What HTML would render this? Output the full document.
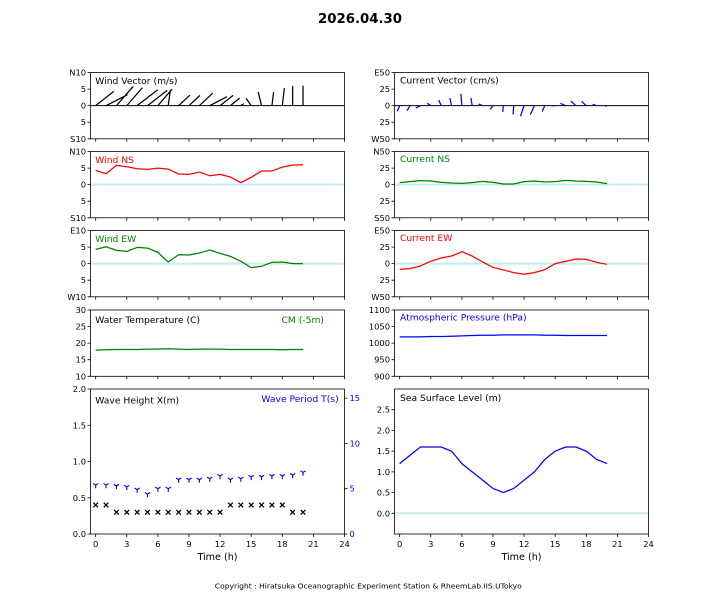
<!DOCTYPE html>
<html>
<head>
<meta charset="utf-8">
<style>
html,body{margin:0;padding:0;background:#fff;}
svg{display:block;}
text{font-family:"DejaVu Sans","Liberation Sans",sans-serif;}
.t{font-size:8.3px;fill:#000;}
.lab{font-size:9.2px;}
.ax{fill:none;stroke:#000;stroke-width:0.8;}
.s{fill:none;stroke-width:1.25;vector-effect:non-scaling-stroke;stroke-linejoin:round;}
.z{stroke:#c4eeee;stroke-width:2;}
</style>
</head>
<body>
<svg width="720" height="600" viewBox="0 0 720 600" xmlns="http://www.w3.org/2000/svg">
<defs>
<path id="xm" d="M-2.3 -2.3 L2.3 2.3 M-2.3 2.3 L2.3 -2.3" stroke="#000" stroke-width="1.3" fill="none"/>
<path id="tm" d="M0 0 L0 3.2 M0 0 L-2.6 -1.6 M0 0 L2.6 -1.6" stroke="#0000ff" stroke-width="1.1" fill="none"/>
</defs>
<rect width="720" height="600" fill="#fff"/>

<!-- Title -->
<text x="360" y="22.8" text-anchor="middle" style="font-size:13.3px;font-weight:bold;">2026.04.30</text>

<!-- zero lines (cyan) -->
<line class="z" x1="90.5" y1="184.65" x2="344.5" y2="184.65"/>
<line class="z" x1="90.5" y1="263.65" x2="344.5" y2="263.65"/>
<line class="z" x1="394.5" y1="184.65" x2="648.5" y2="184.65"/>
<line class="z" x1="394.5" y1="263.65" x2="648.5" y2="263.65"/>
<line class="z" x1="394.5" y1="513.3" x2="648.5" y2="513.3"/>

<!-- black zero lines for vector plots -->
<line x1="90.5" y1="105.65" x2="344.5" y2="105.65" stroke="#000" stroke-width="1"/>
<line x1="394.5" y1="105.65" x2="648.5" y2="105.65" stroke="#000" stroke-width="1"/>

<!-- Wind vectors -->
<g transform="translate(95.68,105.65) scale(10.367,-3.315)">
<path class="s" stroke="#000" d="M0 0L1.742 4.3M1 0L3.066 3.3M2 0L3.62 5.8M3 0L4.499 5.4M4 0L5.985 4.8M5 0L6.904 4.6M6 0L7.377 5.0M7 0L7.203 4.7M8 0L9.094 3.2M9 0L10.053 3.1M10 0L11.296 3.8M11 0L12.661 2.7M12 0L13.256 3.1M13 0L13.891 2.3M14 0L14.284 0.6M15 0L14.514 2.2M16 0L15.676 4.1M17 0L17.162 4.1M18 0L18.203 5.3M19 0L19 5.9M20 0L20 6.0"/>
</g>

<!-- Current vectors -->
<g transform="translate(399.68,105.65) scale(10.367,-0.663)">
<path class="s" stroke="#0000ff" d="M0 0L-0.23 -8.5M1 0L0.71 -7.5M2 0L1.55 -3.5M3 0L2.65 3.5M4 0L3.77 8.5M5 0L4.84 11.5M6 0L5.9 18M7 0L6.87 11.5M8 0L7.61 2.5M9 0L8.74 -5.5M10 0L9.94 -9.5M11 0L10.94 -13.5M12 0L11.65 -16M13 0L12.61 -13.5M14 0L13.74 -9M15 0L14.62 0M16 0L15.5 3.5M17 0L16.52 7M18 0L17.55 6.5M19 0L18.61 2M20 0L19.84 -1"/>
</g>

<!-- Wind NS -->
<g transform="translate(95.68,184.65) scale(10.367,-3.315)">
<polyline class="s" stroke="#ff0000" points="0,4.3 1,3.3 2,5.8 3,5.4 4,4.8 5,4.6 6,5.0 7,4.7 8,3.2 9,3.1 10,3.8 11,2.7 12,3.1 13,2.3 14,0.6 15,2.2 16,4.1 17,4.1 18,5.3 19,5.9 20,6.0"/>
</g>
<!-- Wind EW -->
<g transform="translate(95.68,263.65) scale(10.367,-3.315)">
<polyline class="s" stroke="#008000" points="0,4.3 1,5.1 2,4.0 3,3.7 4,4.9 5,4.7 6,3.4 7,0.5 8,2.7 9,2.6 10,3.2 11,4.1 12,3.1 13,2.2 14,0.7 15,-1.2 16,-0.8 17,0.4 18,0.5 19,0.0 20,0.0"/>
</g>
<!-- Water temp -->
<g transform="translate(95.68,409.45) scale(10.367,-3.315)">
<polyline class="s" stroke="#008000" points="0,17.9 1,18.0 2,18.1 3,18.1 4,18.1 5,18.2 6,18.2 7,18.3 8,18.2 9,18.1 10,18.2 11,18.2 12,18.2 13,18.1 14,18.1 15,18.1 16,18.1 17,18.1 18,18.0 19,18.1 20,18.1"/>
</g>
<!-- Current NS -->
<g transform="translate(399.68,184.65) scale(10.367,-0.663)">
<polyline class="s" stroke="#008000" points="0,3 1,4.5 2,6 3,5.5 4,3.5 5,2.5 6,2 7,3 8,5 9,3.5 10,1 11,1 12,4.5 13,5.5 14,4 15,4.5 16,6.5 17,5.5 18,5 19,4 20,1.5"/>
</g>
<!-- Current EW -->
<g transform="translate(399.68,263.65) scale(10.367,-0.663)">
<polyline class="s" stroke="#ff0000" points="0,-8.5 1,-7.5 2,-3.5 3,3.5 4,8.5 5,11.5 6,18 7,11.5 8,2.5 9,-5.5 10,-9.5 11,-13.5 12,-16 13,-13.5 14,-9 15,0 16,3.5 17,7 18,6.5 19,2 20,-1"/>
</g>
<!-- Pressure (value-1000) -->
<g transform="translate(399.68,343.15) scale(10.367,-0.3315)">
<polyline class="s" stroke="#0000ff" points="0,19 1,19 2,19 3,20 4,20 5,21 6,22 7,23 8,24 9,24 10,25 11,25 12,25 13,25 14,24 15,24 16,23 17,23 18,23 19,23 20,23"/>
</g>
<!-- Sea surface level -->
<g transform="translate(399.68,513.3) scale(10.367,-41.43)">
<polyline class="s" stroke="#0000ff" points="0,1.2 1,1.4 2,1.6 3,1.6 4,1.6 5,1.5 6,1.2 7,1.0 8,0.8 9,0.6 10,0.5 11,0.6 12,0.8 13,1.0 14,1.3 15,1.5 16,1.6 17,1.6 18,1.5 19,1.3 20,1.2"/>
</g>

<!-- Wave height markers -->
<use href="#xm" x="95.68" y="505"/><use href="#xm" x="106.05" y="505"/>
<use href="#xm" x="116.41" y="512.25"/><use href="#xm" x="126.78" y="512.25"/><use href="#xm" x="137.15" y="512.25"/><use href="#xm" x="147.52" y="512.25"/><use href="#xm" x="157.88" y="512.25"/><use href="#xm" x="168.25" y="512.25"/><use href="#xm" x="178.62" y="512.25"/><use href="#xm" x="188.98" y="512.25"/><use href="#xm" x="199.35" y="512.25"/><use href="#xm" x="209.72" y="512.25"/><use href="#xm" x="220.08" y="512.25"/>
<use href="#xm" x="230.45" y="505"/><use href="#xm" x="240.82" y="505"/><use href="#xm" x="251.18" y="505"/><use href="#xm" x="261.55" y="505"/><use href="#xm" x="271.92" y="505"/><use href="#xm" x="282.28" y="505"/>
<use href="#xm" x="292.65" y="512.25"/><use href="#xm" x="303.02" y="512.25"/>

<!-- Wave period markers -->
<use href="#tm" x="95.68" y="485.06"/><use href="#tm" x="106.05" y="485.06"/><use href="#tm" x="116.41" y="485.97"/><use href="#tm" x="126.78" y="486.9"/><use href="#tm" x="137.15" y="489.6"/><use href="#tm" x="147.52" y="494.1"/><use href="#tm" x="157.88" y="488.7"/><use href="#tm" x="168.25" y="488.7"/><use href="#tm" x="178.62" y="479.6"/><use href="#tm" x="188.98" y="479.6"/><use href="#tm" x="199.35" y="479.6"/><use href="#tm" x="209.72" y="478.7"/><use href="#tm" x="220.08" y="476.0"/><use href="#tm" x="230.45" y="479.6"/><use href="#tm" x="240.82" y="478.7"/><use href="#tm" x="251.18" y="476.9"/><use href="#tm" x="261.55" y="476.9"/><use href="#tm" x="271.92" y="476.0"/><use href="#tm" x="282.28" y="476.0"/><use href="#tm" x="292.65" y="475.1"/><use href="#tm" x="303.02" y="472.4"/>

<!-- Axes frames -->
<rect class="ax" x="90.5" y="72.5" width="254" height="66.3"/>
<rect class="ax" x="90.5" y="151.5" width="254" height="66.3"/>
<rect class="ax" x="90.5" y="230.5" width="254" height="66.3"/>
<rect class="ax" x="90.5" y="310" width="254" height="66.3"/>
<rect class="ax" x="90.5" y="389" width="254" height="145"/>
<rect class="ax" x="394.5" y="72.5" width="254" height="66.3"/>
<rect class="ax" x="394.5" y="151.5" width="254" height="66.3"/>
<rect class="ax" x="394.5" y="230.5" width="254" height="66.3"/>
<rect class="ax" x="394.5" y="310" width="254" height="66.3"/>
<rect class="ax" x="394.5" y="389" width="254" height="145"/>

<!-- Y ticks -->
<path class="ax" d="M87.5 72.5H90.5M87.5 89.1H90.5M87.5 105.65H90.5M87.5 122.2H90.5M87.5 138.8H90.5
M87.5 151.5H90.5M87.5 168.1H90.5M87.5 184.65H90.5M87.5 201.2H90.5M87.5 217.8H90.5
M87.5 230.5H90.5M87.5 247.1H90.5M87.5 263.65H90.5M87.5 280.2H90.5M87.5 296.8H90.5
M87.5 310H90.5M87.5 326.6H90.5M87.5 343.15H90.5M87.5 359.7H90.5M87.5 376.3H90.5
M87.5 389H90.5M87.5 425.25H90.5M87.5 461.5H90.5M87.5 497.75H90.5M87.5 534H90.5
M344.5 398.1H347.5M344.5 443.4H347.5M344.5 488.7H347.5M344.5 534H347.5
M391.5 72.5H394.5M391.5 89.1H394.5M391.5 105.65H394.5M391.5 122.2H394.5M391.5 138.8H394.5
M391.5 151.5H394.5M391.5 168.1H394.5M391.5 184.65H394.5M391.5 201.2H394.5M391.5 217.8H394.5
M391.5 230.5H394.5M391.5 247.1H394.5M391.5 263.65H394.5M391.5 280.2H394.5M391.5 296.8H394.5
M391.5 310H394.5M391.5 326.6H394.5M391.5 343.15H394.5M391.5 359.7H394.5M391.5 376.3H394.5
M391.5 409.7H394.5M391.5 430.4H394.5M391.5 451.1H394.5M391.5 471.9H394.5M391.5 492.6H394.5M391.5 513.3H394.5"/>

<!-- X ticks -->
<path class="ax" d="M95.68 138.8v3M126.78 138.8v3M157.88 138.8v3M188.98 138.8v3M220.08 138.8v3M251.18 138.8v3M282.28 138.8v3M313.38 138.8v3M344.48 138.8v3
M95.68 217.8v3M126.78 217.8v3M157.88 217.8v3M188.98 217.8v3M220.08 217.8v3M251.18 217.8v3M282.28 217.8v3M313.38 217.8v3M344.48 217.8v3
M95.68 296.8v3M126.78 296.8v3M157.88 296.8v3M188.98 296.8v3M220.08 296.8v3M251.18 296.8v3M282.28 296.8v3M313.38 296.8v3M344.48 296.8v3
M95.68 376.3v3M126.78 376.3v3M157.88 376.3v3M188.98 376.3v3M220.08 376.3v3M251.18 376.3v3M282.28 376.3v3M313.38 376.3v3M344.48 376.3v3
M95.68 534v3M126.78 534v3M157.88 534v3M188.98 534v3M220.08 534v3M251.18 534v3M282.28 534v3M313.38 534v3M344.48 534v3
M399.68 138.8v3M430.78 138.8v3M461.88 138.8v3M492.98 138.8v3M524.08 138.8v3M555.18 138.8v3M586.28 138.8v3M617.38 138.8v3M648.48 138.8v3
M399.68 217.8v3M430.78 217.8v3M461.88 217.8v3M492.98 217.8v3M524.08 217.8v3M555.18 217.8v3M586.28 217.8v3M617.38 217.8v3M648.48 217.8v3
M399.68 296.8v3M430.78 296.8v3M461.88 296.8v3M492.98 296.8v3M524.08 296.8v3M555.18 296.8v3M586.28 296.8v3M617.38 296.8v3M648.48 296.8v3
M399.68 376.3v3M430.78 376.3v3M461.88 376.3v3M492.98 376.3v3M524.08 376.3v3M555.18 376.3v3M586.28 376.3v3M617.38 376.3v3M648.48 376.3v3
M399.68 534v3M430.78 534v3M461.88 534v3M492.98 534v3M524.08 534v3M555.18 534v3M586.28 534v3M617.38 534v3M648.48 534v3"/>

<!-- Left y tick labels -->
<g class="t" text-anchor="end">
<text x="86" y="75.5">N10</text><text x="86" y="92.1">5</text><text x="86" y="108.65">0</text><text x="86" y="125.2">5</text><text x="86" y="141.8">S10</text>
<text x="86" y="154.5">N10</text><text x="86" y="171.1">5</text><text x="86" y="187.65">0</text><text x="86" y="204.2">5</text><text x="86" y="220.8">S10</text>
<text x="86" y="233.5">E10</text><text x="86" y="250.1">5</text><text x="86" y="266.65">0</text><text x="86" y="283.2">5</text><text x="86" y="299.8">W10</text>
<text x="86" y="313">30</text><text x="86" y="329.6">25</text><text x="86" y="346.15">20</text><text x="86" y="362.7">15</text><text x="86" y="379.3">10</text>
<text x="86" y="392">2.0</text><text x="86" y="428.25">1.5</text><text x="86" y="464.5">1.0</text><text x="86" y="500.75">0.5</text><text x="86" y="537">0.0</text>
</g>
<!-- Right y tick labels -->
<g class="t" text-anchor="end">
<text x="390" y="75.5">E50</text><text x="390" y="92.1">25</text><text x="390" y="108.65">0</text><text x="390" y="125.2">25</text><text x="390" y="141.8">W50</text>
<text x="390" y="154.5">N50</text><text x="390" y="171.1">25</text><text x="390" y="187.65">0</text><text x="390" y="204.2">25</text><text x="390" y="220.8">S50</text>
<text x="390" y="233.5">E50</text><text x="390" y="250.1">25</text><text x="390" y="266.65">0</text><text x="390" y="283.2">25</text><text x="390" y="299.8">W50</text>
<text x="390" y="313">1100</text><text x="390" y="329.6">1050</text><text x="390" y="346.15">1000</text><text x="390" y="362.7">950</text><text x="390" y="379.3">900</text>
<text x="390" y="412.7">2.5</text><text x="390" y="433.4">2.0</text><text x="390" y="454.1">1.5</text><text x="390" y="474.9">1.0</text><text x="390" y="495.6">0.5</text><text x="390" y="516.3">0.0</text>
</g>
<!-- Wave period axis labels -->
<g class="t" style="fill:#0000ff">
<text x="349.5" y="401.1">15</text><text x="349.5" y="446.4">10</text><text x="349.5" y="491.7">5</text><text x="349.5" y="537">0</text>
</g>
<!-- X tick labels -->
<g class="t" text-anchor="middle">
<text x="95.68" y="547">0</text><text x="126.78" y="547">3</text><text x="157.88" y="547">6</text><text x="188.98" y="547">9</text><text x="220.08" y="547">12</text><text x="251.18" y="547">15</text><text x="282.28" y="547">18</text><text x="313.38" y="547">21</text><text x="344.48" y="547">24</text>
<text x="399.68" y="547">0</text><text x="430.78" y="547">3</text><text x="461.88" y="547">6</text><text x="492.98" y="547">9</text><text x="524.08" y="547">12</text><text x="555.18" y="547">15</text><text x="586.28" y="547">18</text><text x="617.38" y="547">21</text><text x="648.48" y="547">24</text>
</g>
<text x="217.5" y="560" text-anchor="middle" style="font-size:9.6px">Time (h)</text>
<text x="521.5" y="560" text-anchor="middle" style="font-size:9.6px">Time (h)</text>

<!-- Panel labels -->
<g class="lab">
<text x="95.3" y="84">Wind Vector (m/s)</text>
<text x="95.3" y="162.8" fill="#ff0000">Wind NS</text>
<text x="95.3" y="242" fill="#008000">Wind EW</text>
<text x="95.3" y="323" >Water Temperature (C)</text>
<text x="324" y="323" fill="#008000" text-anchor="end">CM (-5m)</text>
<text x="95.3" y="403.5">Wave Height X(m)</text>
<text x="338.7" y="402" fill="#0000ff" text-anchor="end">Wave Period T(s)</text>
<text x="400" y="83.3">Current Vector (cm/s)</text>
<text x="400" y="162" fill="#008000">Current NS</text>
<text x="400" y="241" fill="#ff0000">Current EW</text>
<text x="400" y="320.6" fill="#0000ff">Atmospheric Pressure (hPa)</text>
<text x="400" y="401">Sea Surface Level (m)</text>
</g>

<!-- Copyright -->
<text x="368.3" y="588.5" text-anchor="middle" style="font-size:6.7px" textLength="307" lengthAdjust="spacingAndGlyphs">Copyright : Hiratsuka Oceanographic Experiment Station &amp; RheemLab.IIS.UTokyo</text>
</svg>
</body>
</html>
